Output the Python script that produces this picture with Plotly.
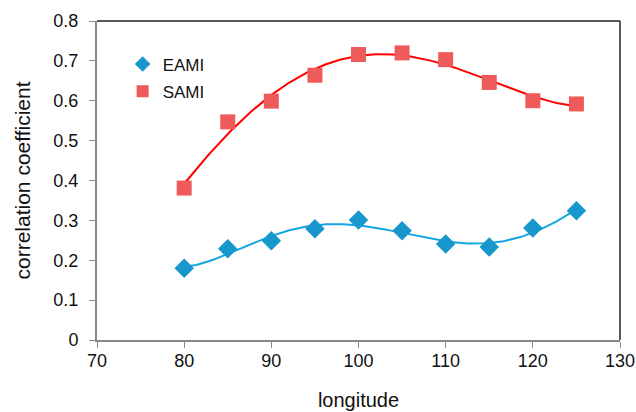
import numpy as np
import plotly.graph_objects as go

longitude = [80, 85, 90, 95, 100, 105, 110, 115, 120, 125]
eami = [0.180, 0.229, 0.249, 0.279, 0.301, 0.274, 0.241, 0.233, 0.281, 0.324]
sami = [0.381, 0.547, 0.599, 0.664, 0.716, 0.720, 0.703, 0.646, 0.600, 0.592]
x_ticks = [70, 80, 90, 100, 110, 120, 130]
y_ticks = [0, 0.1, 0.2, 0.3, 0.4, 0.5, 0.6, 0.7, 0.8]

# polynomial trendlines fitted to the data
xs = np.linspace(min(longitude), max(longitude), 200)
fit_e = np.polyval(np.polyfit(longitude, eami, 5), xs)
fit_s = np.polyval(np.polyfit(longitude, sami, 4), xs)

fig = go.Figure()
fig.add_trace(go.Scatter(x=xs, y=fit_s, mode="lines", line=dict(color="#ff0000", width=2),
                         showlegend=False, hoverinfo="skip"))
fig.add_trace(go.Scatter(x=xs, y=fit_e, mode="lines", line=dict(color="#14a6e0", width=2),
                         showlegend=False, hoverinfo="skip"))
fig.add_trace(go.Scatter(x=longitude, y=eami, mode="markers", name="EAMI", legendgroup="e",
                         marker=dict(symbol="diamond", size=15, color="#1797cc")))
fig.add_trace(go.Scatter(x=longitude, y=sami, mode="markers", name="SAMI", legendgroup="s",
                         marker=dict(symbol="square", size=15, color="#ef5a5a")))

font = "Liberation Sans, Arial, sans-serif"
fig.update_layout(
    width=636, height=412,
    margin=dict(l=97, r=16, t=21, b=72),
    paper_bgcolor="white", plot_bgcolor="white",
    font=dict(family=font, size=18, color="#111111"),
    legend=dict(x=0.049, y=0.92, xanchor="left", yanchor="top",
                bgcolor="rgba(0,0,0,0)", font=dict(size=17), itemsizing="constant",
                tracegroupgap=2),
    xaxis=dict(range=[70, 130], tickvals=x_ticks, ticks="outside", ticklen=6,
               tickcolor="#888888", linecolor="#888888", linewidth=2, showgrid=False,
               zeroline=False, mirror=False, automargin=False, ticklabelstandoff=-3,
               title=dict(text="longitude", font=dict(size=20), standoff=23)),
    yaxis=dict(range=[0, 0.8], tickvals=y_ticks, ticktext=[str(v) for v in y_ticks],
               ticks="outside", ticklen=6, tickcolor="#888888", linecolor="#888888",
               linewidth=2, showgrid=False, zeroline=False, automargin=False,
               ticklabelstandoff=7),
)
fig.add_annotation(text="correlation coefficient", xref="paper", yref="paper",
                   x=0, y=0.5, xshift=-75, textangle=-90, showarrow=False,
                   xanchor="center", yanchor="middle", font=dict(size=21))
# top and right border in dark
fig.add_shape(type="line", xref="paper", yref="paper", x0=0, x1=1, y0=1, y1=1,
              line=dict(color="#222222", width=1.5))
fig.add_shape(type="line", xref="paper", yref="paper", x0=1, x1=1, y0=0, y1=1,
              line=dict(color="#222222", width=1.5))

fig.write_html("out.html", config={"displayModeBar": False},
               post_script="document.body.style.margin='0';")
